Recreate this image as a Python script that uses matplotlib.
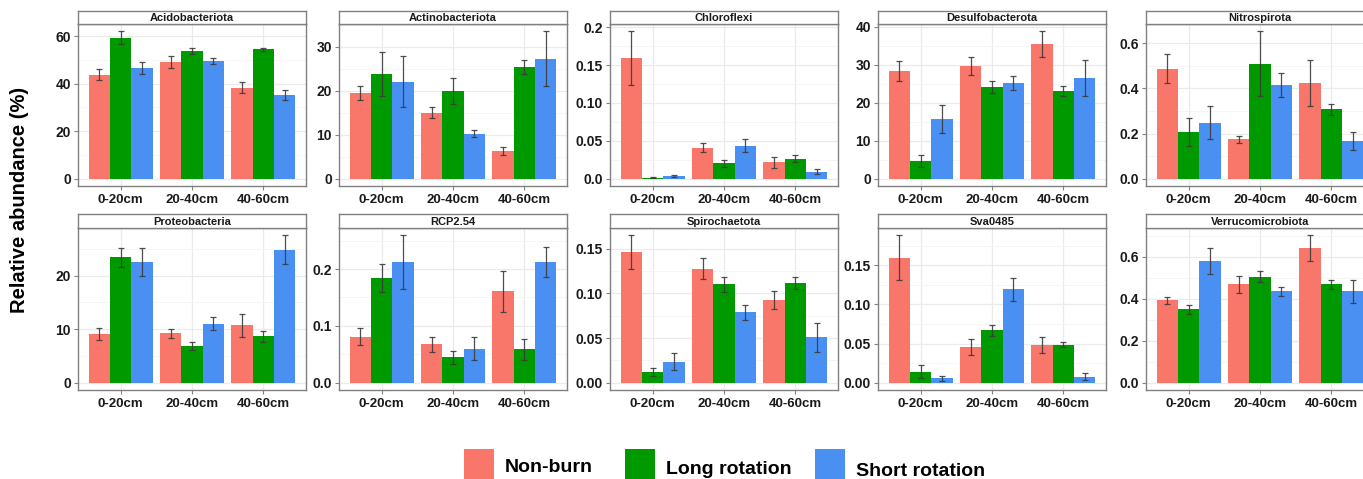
import matplotlib
matplotlib.use("Agg")
import matplotlib.pyplot as plt
from matplotlib.patches import Rectangle
import numpy as np

plt.rcParams['font.family'] = ['Liberation Sans', 'DejaVu Sans']

# ---- data -----------------------------------------------------------------
depths = ["0-20cm", "20-40cm", "40-60cm"]
treatments = ["Non-burn", "Long rotation", "Short rotation"]
colors = ["#F9766B", "#009900", "#4A8FF2"]

phyla = ["Acidobacteriota", "Actinobacteriota", "Chloroflexi", "Desulfobacterota",
         "Nitrospirota", "Proteobacteria", "RCP2.54", "Spirochaetota",
         "Sva0485", "Verrucomicrobiota"]

# rows: Non-burn, Long rotation, Short rotation; columns: depths
acido_mean = [[43.8, 49.2, 38.2], [59.3, 53.7, 54.4], [46.5, 49.6, 35.3]]
acido_se = [[2.4, 2.5, 2.3], [2.7, 1.3, 0.6], [2.5, 1.2, 2.2]]

actino_mean = [[19.5, 15.0, 6.2], [23.8, 20.0, 25.4], [22.0, 10.2, 27.3]]
actino_se = [[1.5, 1.25, 0.9], [4.9, 3.0, 1.6], [5.8, 0.8, 6.2]]

chloro_mean = [[0.159, 0.041, 0.0216], [0.0015, 0.020, 0.0265], [0.0035, 0.0437, 0.0093]]
chloro_se = [[0.0355, 0.006, 0.0073], [0.0005, 0.004, 0.0044], [0.001, 0.0084, 0.0033]]

desulfo_mean = [[28.3, 29.7, 35.4], [4.6, 24.2, 23.0], [15.7, 25.3, 26.5]]
desulfo_se = [[2.6, 2.4, 3.4], [1.5, 1.55, 1.3], [3.75, 1.85, 4.8]]

nitro_mean = [[0.488, 0.175, 0.424], [0.207, 0.509, 0.307], [0.248, 0.415, 0.167]]
nitro_se = [[0.064, 0.016, 0.10], [0.063, 0.144, 0.025], [0.072, 0.052, 0.042]]

proteo_mean = [[9.1, 9.2, 10.7], [23.4, 6.8, 8.65], [22.6, 11.0, 24.8]]
proteo_se = [[1.1, 0.8, 2.15], [1.75, 0.75, 1.0], [2.6, 1.25, 2.7]]

rcp_mean = [[0.081, 0.0675, 0.161], [0.184, 0.045, 0.0586], [0.2124, 0.060, 0.2124]]
rcp_se = [[0.0145, 0.013, 0.036], [0.0245, 0.0115, 0.019], [0.047, 0.021, 0.0266]]

spiro_mean = [[0.146, 0.1277, 0.0925], [0.0116, 0.1105, 0.1116], [0.0232, 0.0787, 0.0506]]
spiro_se = [[0.019, 0.0114, 0.0105], [0.0045, 0.0084, 0.0067], [0.0095, 0.0084, 0.0165]]

sva_mean = [[0.160, 0.0453, 0.0487], [0.0142, 0.0668, 0.0487], [0.0056, 0.1194, 0.0078]]
sva_se = [[0.0284, 0.0103, 0.0103], [0.0084, 0.0071, 0.0037], [0.003, 0.0147, 0.005]]

verruco_mean = [[0.393, 0.468, 0.640], [0.350, 0.505, 0.469], [0.580, 0.436, 0.436]]
verruco_se = [[0.016, 0.039, 0.062], [0.022, 0.026, 0.022], [0.060, 0.0215, 0.055]]

acido_ticks = ([0, 20, 40, 60], ["0", "20", "40", "60"])
actino_ticks = ([0, 10, 20, 30], ["0", "10", "20", "30"])
chloro_ticks = ([0, 0.05, 0.10, 0.15, 0.2], ["0.0", "0.05", "0.10", "0.15", "0.2"])
desulfo_ticks = ([0, 10, 20, 30, 40], ["0", "10", "20", "30", "40"])
nitro_ticks = ([0, 0.2, 0.4, 0.6], ["0.0", "0.2", "0.4", "0.6"])
proteo_ticks = ([0, 10, 20], ["0", "10", "20"])
rcp_ticks = ([0, 0.1, 0.2], ["0.0", "0.1", "0.2"])
spiro_ticks = ([0, 0.05, 0.10, 0.15], ["0.00", "0.05", "0.10", "0.15"])
sva_ticks = ([0, 0.05, 0.10, 0.15], ["0.00", "0.05", "0.10", "0.15"])
verruco_ticks = ([0, 0.2, 0.4, 0.6], ["0.0", "0.2", "0.4", "0.6"])

means = [acido_mean, actino_mean, chloro_mean, desulfo_mean, nitro_mean,
         proteo_mean, rcp_mean, spiro_mean, sva_mean, verruco_mean]
ses = [acido_se, actino_se, chloro_se, desulfo_se, nitro_se,
       proteo_se, rcp_se, spiro_se, sva_se, verruco_se]
ticks = [acido_ticks, actino_ticks, chloro_ticks, desulfo_ticks, nitro_ticks,
         proteo_ticks, rcp_ticks, spiro_ticks, sva_ticks, verruco_ticks]

# ---- layout (pixels) -------------------------------------------------------
W, H = 1363, 479
fig = plt.figure(figsize=(W / 100, H / 100), dpi=100)
fig.patch.set_facecolor("white")

col_left = [78, 339, 610, 878, 1146]
panel_w = 228
rows = [(11, 24, 186), (214, 228, 390)]  # strip top, panel top, panel bottom

border = "#808080"
textc = "#1A1A1A"


def fx(px):
    return px / W


def fy(py):
    return 1 - py / H


for i, name in enumerate(phyla):
    r, c = divmod(i, 5)
    st, pt, pb = rows[r]
    left = col_left[c]
    ax = fig.add_axes([fx(left), fy(pb), panel_w / W, (pb - pt) / H])
    sax = fig.add_axes([fx(left), fy(pt), panel_w / W, (pt - st) / H])

    m = np.array(means[i])
    s = np.array(ses[i])
    x = np.arange(1, len(depths) + 1)
    width = 0.3
    for k in range(len(treatments)):
        ax.bar(x + (k - 1) * width, m[k], width, color=colors[k], zorder=2,
               edgecolor="none")
        ax.errorbar(x + (k - 1) * width, m[k], yerr=s[k], fmt="none",
                    ecolor="#3C3C3C", elinewidth=0.9, capsize=2.2,
                    capthick=0.9, zorder=3, alpha=0.9)

    top = float((m + s).max())
    ax.set_ylim(-0.05 * top, 1.05 * top)
    ax.set_xlim(0.4, 3.6)

    tpos, tlab = ticks[i]
    ax.set_yticks(tpos)
    ax.set_yticklabels(tlab)
    step = tpos[1] - tpos[0]
    minor = [t + step / 2 for t in tpos if t + step / 2 < 1.05 * top]
    ax.set_yticks(minor, minor=True)
    ax.set_xticks(x)
    ax.set_xticklabels(depths)

    ax.grid(True, which="major", color="#EBEBEB", linewidth=0.9, zorder=0)
    ax.grid(True, which="minor", axis="y", color="#F4F4F4", linewidth=0.6, zorder=0)
    ax.set_axisbelow(True)
    ax.tick_params(axis="both", which="major", colors=border, length=3, width=0.8,
                   labelcolor=textc)
    ax.tick_params(axis="y", which="minor", length=0)
    ax.tick_params(axis="y", pad=2)
    ax.tick_params(axis="x", pad=3)
    for lab in ax.get_yticklabels():
        lab.set_fontweight("bold")
        lab.set_fontsize(10)
    for lab in ax.get_xticklabels():
        lab.set_fontweight("bold")
        lab.set_fontsize(9.5)
    for sp in ax.spines.values():
        sp.set_color(border)
        sp.set_linewidth(1.0)

    sax.set_xticks([])
    sax.set_yticks([])
    sax.set_facecolor("white")
    for sp in sax.spines.values():
        sp.set_color(border)
        sp.set_linewidth(1.0)
    sax.text(0.5, 0.45, name, ha="center", va="center", fontsize=8,
             fontweight="bold", color=textc, transform=sax.transAxes)

fig.text(fx(20), fy(200), "Relative abundance (%)", rotation=90, ha="center",
         va="center", fontsize=14.5, fontweight="bold", color="black")

# ---- legend ----------------------------------------------------------------
key_left = [464, 625, 815]
key_text_y = [468, 469, 472]
for k, lab in enumerate(treatments):
    fig.patches.append(Rectangle((fx(key_left[k]), fy(484)), 30 / W, 35 / H,
                                 transform=fig.transFigure, facecolor=colors[k],
                                 edgecolor="none"))
    fig.text(fx(key_left[k] + 41), fy(key_text_y[k]), lab, ha="left", va="center",
             fontsize=14, fontweight="bold", color="black")

fig.savefig("out.png", dpi=100)
